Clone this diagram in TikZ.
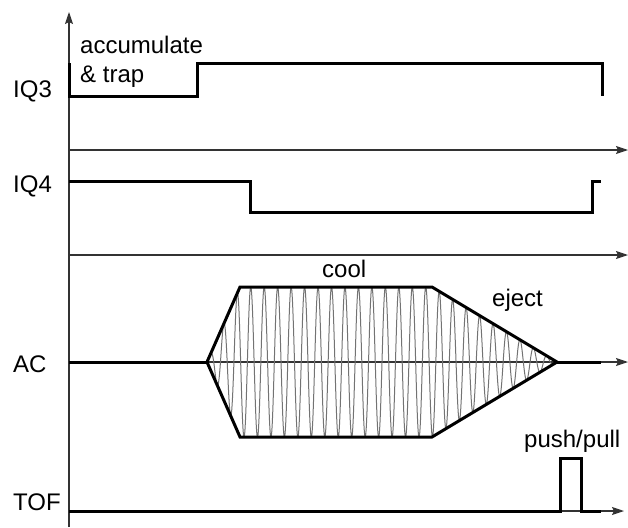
\documentclass[tikz,border=0pt]{standalone}
\usepackage{fontspec}
\setmainfont{Liberation Sans}
\usetikzlibrary{arrows.meta}
\begin{document}
\begin{tikzpicture}[x=1pt,y=-1pt,
  axis/.style={line width=1.2pt, draw=black!80},
  axisarrow/.style={axis, -{Stealth[length=12pt,width=8pt,inset=2pt]}},
  signal/.style={line width=3pt, line join=miter},
  lbl/.style={font=\fontsize{24}{28}\selectfont, inner sep=0pt, anchor=base west},
  carrier/.style={line width=1pt, draw=black!55}]
\useasboundingbox (0,0) rectangle (628,527);

% time axis (vertical) and the four baselines
\coordinate (origin) at (69,527);
\coordinate (ytop) at (69,12);
\draw[axisarrow] (origin) -- (ytop);

\coordinate (ax1s) at (69,150);  \coordinate (ax1e) at (628,150);
\coordinate (ax2s) at (69,255);  \coordinate (ax2e) at (628,255);
\coordinate (acs)  at (69,362);  \coordinate (ace)  at (628,362);
\coordinate (tofs) at (69,511);  \coordinate (tofe) at (624,511);
\draw[axisarrow] (ax1s) -- (ax1e);
\draw[axisarrow] (ax2s) -- (ax2e);
\draw[axisarrow] (acs) -- (ace);
\draw[axisarrow] (tofs) -- (tofe);

% IQ3 gate
\draw[signal] (69,63) -- (69,96) -- (197,96) -- (197,63) -- (602,63) -- (602,96);
% IQ4 gate
\draw[signal] (69,181) -- (250,181) -- (250,212) -- (592,212) -- (592,181) -- (601,181);

% AC excitation: carrier under a trapezoidal envelope
\draw[carrier] plot[domain=0:350, samples=1600]
  ({207+\x}, {362 - min(2.2727*\x, 75, 0.6*(350-\x))*sin(26.743*\x)});
\coordinate (envL) at (207,362);
\coordinate (envTL) at (240,287);
\coordinate (envTR) at (432,287);
\coordinate (envR) at (557,362);
\coordinate (envBR) at (432,437);
\coordinate (envBL) at (240,437);
\draw[signal] (envL) -- (envTL) -- (envTR) -- (envR) -- (envBR) -- (envBL) -- cycle;
\draw[signal] (acs) -- (envL);
\draw[signal] (envR) -- (601,362);

% TOF push/pull pulse
\draw[signal] (tofs) -- (560,511) -- (560,458) -- (581,458) -- (581,511) -- (601,511);

% labels
\node[lbl] (tacc) at (80,53) {accumulate};
\node[lbl] (ttrap) at (80,82) {\& trap};
\node[lbl] (tiq3) at (13,97) {IQ3};
\node[lbl] (tiq4) at (13,192) {IQ4};
\node[lbl] (tac) at (13,372) {AC};
\node[lbl] (ttof) at (13,510) {TOF};
\node[lbl] (tcool) at (322,277) {cool};
\node[lbl] (teject) at (492,306) {eject};
\node[lbl] (tpush) at (524,447) {push/pull};
\end{tikzpicture}
\end{document}
